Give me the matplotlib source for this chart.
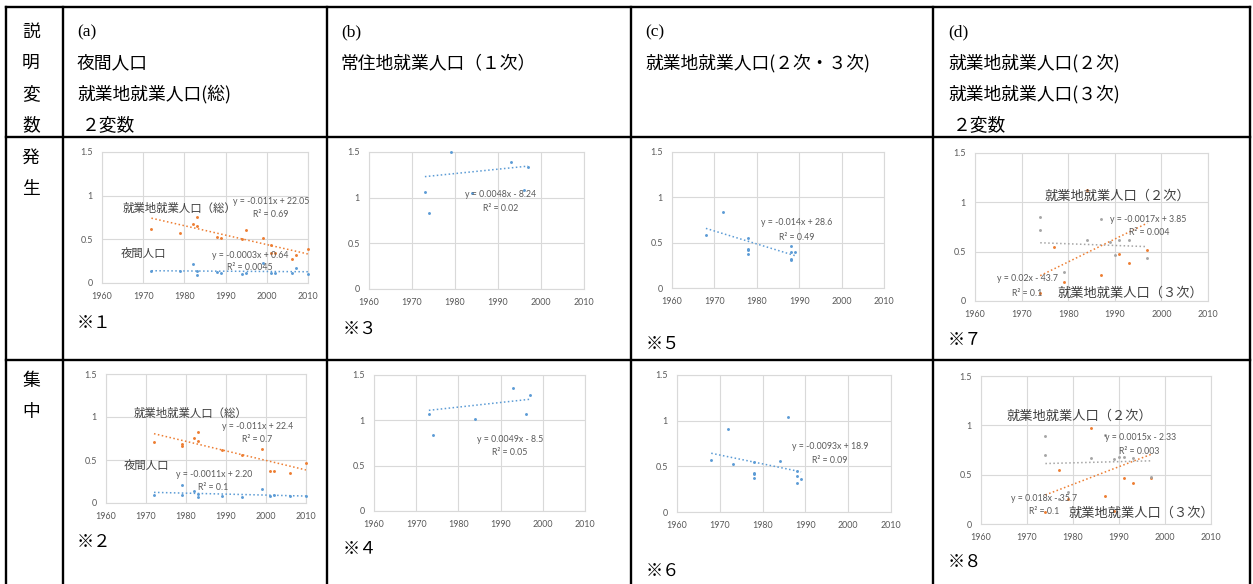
import matplotlib
matplotlib.use('Agg')
import matplotlib.pyplot as plt
from matplotlib.lines import Line2D
import numpy as np

W, H = 1253, 584
BLUE, ORANGE, GRAY = '#5b9bd5', '#ed7d31', '#a5a5a5'
JP = ['Noto Sans CJK JP', 'DejaVu Sans']
NUM = ['Lato', 'DejaVu Sans']

# ---------------- data ----------------
x_ticks = [1960, 1970, 1980, 1990, 2000, 2010]
y_ticks = [0, 0.5, 1, 1.5]
y_tick_labels = ['0', '0.5', '1', '1.5']

# (a) 発生
a1_total_x = [1972, 1979, 1982, 1983, 1983, 1988, 1989, 1994, 1995, 1999, 2001, 2001, 2002, 2006, 2007, 2010]
a1_total_y = [0.62, 0.57, 0.68, 0.76, 0.65, 0.53, 0.52, 0.50, 0.61, 0.52, 0.44, 0.34, 0.34, 0.28, 0.32, 0.39]
a1_night_x = [1972, 1979, 1982, 1983, 1983, 1988, 1989, 1994, 1995, 1999, 2001, 2002, 2006, 2007, 2010]
a1_night_y = [0.14, 0.14, 0.22, 0.14, 0.09, 0.13, 0.11, 0.10, 0.12, 0.23, 0.12, 0.12, 0.11, 0.17, 0.10]
a1_total_trend = (-0.0108, 22.04)
a1_night_trend = (-0.0003, 0.732)

# (b) 発生
b1_x = [1973, 1974, 1979, 1984, 1993, 1996, 1997]
b1_y = [1.06, 0.83, 1.50, 1.05, 1.39, 1.08, 1.34]
b1_trend = (0.0048, -8.24)

# (c) 発生
c1_x = [1968, 1972, 1978, 1978, 1978, 1978, 1988, 1988, 1988, 1988, 1989]
c1_y = [0.59, 0.84, 0.55, 0.43, 0.42, 0.38, 0.46, 0.40, 0.32, 0.31, 0.40]
c1_trend = (-0.0143, 28.80)

# (d) 発生
d1_sec_x = [1974, 1974, 1979, 1984, 1987, 1989, 1990, 1991, 1993, 1997]
d1_sec_y = [0.85, 0.715, 0.29, 0.62, 0.83, 0.60, 0.465, 0.62, 0.62, 0.44]
d1_ter_x = [1974, 1977, 1979, 1984, 1987, 1991, 1993, 1997]
d1_ter_y = [0.08, 0.55, 0.195, 1.12, 0.26, 0.48, 0.385, 0.515]
d1_sec_trend = (-0.0017, 3.946)
d1_ter_trend = (0.0232, -45.54)

# (a) 集中
a2_total_x = [1972, 1979, 1979, 1982, 1983, 1983, 1989, 1994, 1999, 2001, 2002, 2006, 2010]
a2_total_y = [0.705, 0.686, 0.663, 0.756, 0.826, 0.725, 0.62, 0.562, 0.624, 0.376, 0.376, 0.345, 0.469]
a2_night_x = [1972, 1979, 1979, 1982, 1983, 1983, 1989, 1994, 1999, 2001, 2002, 2006, 2010]
a2_night_y = [0.097, 0.205, 0.089, 0.136, 0.109, 0.066, 0.078, 0.066, 0.159, 0.081, 0.093, 0.078, 0.078]
a2_total_trend = (-0.0111, 22.695)
a2_night_trend = (-0.00113, 2.352)

# (b) 集中
b2_x = [1973, 1974, 1984, 1993, 1996, 1997]
b2_y = [1.074, 0.835, 1.011, 1.353, 1.074, 1.283]
b2_trend = (0.0051, -8.952)

# (c) 集中
c2_x = [1968, 1972, 1973, 1978, 1978, 1978, 1978, 1984, 1986, 1988, 1988, 1988, 1989]
c2_y = [0.574, 0.908, 0.527, 0.545, 0.429, 0.414, 0.374, 0.556, 1.039, 0.454, 0.396, 0.316, 0.363]
c2_trend = (-0.0097, 19.733)

# (d) 集中
d2_ter_x = [1974, 1977, 1979, 1984, 1987, 1989, 1991, 1993, 1997]
d2_ter_y = [0.118, 0.546, 0.25, 0.977, 0.286, 0.135, 0.462, 0.411, 0.47]
d2_sec_x = [1974, 1974, 1977, 1979, 1984, 1987, 1989, 1990, 1991, 1993, 1997]
d2_sec_y = [0.89, 0.698, 0.25, 0.327, 0.664, 0.90, 0.654, 0.674, 0.68, 0.664, 0.475]
d2_sec_trend = (0.0012, -1.756)
d2_ter_trend = (0.0179, -35.04)

# ---------------- figure ----------------
fig = plt.figure(figsize=(W / 100, H / 100), dpi=100)
fig.patch.set_facecolor('white')


def fx(x):
    return x / W


def fy(y):
    return 1 - y / H


def hline(y, x0=6, x1=1250, lw=1.7):
    fig.add_artist(Line2D([fx(x0), fx(x1)], [fy(y), fy(y)], color='black', lw=lw,
                          transform=fig.transFigure))


def vline(x, y0=7, y1=584, lw=1.7):
    fig.add_artist(Line2D([fx(x), fx(x)], [fy(y0), fy(y1)], color='black', lw=lw,
                          transform=fig.transFigure))


for y in (7, 137, 360):
    hline(y)
for x in (6, 63, 327, 631, 933, 1250):
    vline(x)


def ftext(x, y, s, size=12.8, family=JP, **kw):
    fig.text(fx(x), fy(y), s, fontsize=size, family=family, va='center', ha='left',
             color='black', **kw)


# left column
for s, y in zip('説明変数', (32, 63, 94, 125)):
    ftext(22, y, s)
for s, y in zip('発生', (158, 189)):
    ftext(22, y, s)
for s, y in zip('集中', (381, 412)):
    ftext(22, y, s)

# header
ftext(77, 32, '(a)', size=12.5, family=['Liberation Serif'])
ftext(77, 63, '夜間人口')
ftext(77, 94, '就業地就業人口(総)')
ftext(82, 125, '２変数')
ftext(341, 32, '(b)', size=12.5, family=['Liberation Serif'])
ftext(341, 63, '常住地就業人口（１次）')
ftext(645, 32, '(c)', size=12.5, family=['Liberation Serif'])
ftext(645, 63, '就業地就業人口(２次・３次)')
ftext(948, 32, '(d)', size=12.5, family=['Liberation Serif'])
ftext(948, 63, '就業地就業人口(２次)')
ftext(948, 94, '就業地就業人口(３次)')
ftext(953, 125, '２変数')

# notes
for s, x, y in [('※１', 77, 323), ('※３', 343, 329), ('※５', 646, 344), ('※７', 948, 340),
                 ('※２', 77, 542), ('※４', 343, 549), ('※６', 646, 571), ('※８', 948, 562)]:
    ftext(x, y, s, size=12.5)


def make_ax(x1960, x2010, y15, y0):
    ax = fig.add_axes([fx(x1960), fy(y0), (x2010 - x1960) / W, (y0 - y15) / H])
    ax.set_xlim(1960, 2010)
    ax.set_ylim(0, 1.5)
    ax.set_xticks(x_ticks)
    ax.set_yticks(y_ticks)
    ax.set_yticklabels(y_tick_labels)
    ax.grid(True, color='#d9d9d9', lw=0.8)
    ax.set_axisbelow(True)
    ax.tick_params(length=0, labelsize=6.4, labelcolor='#595959', pad=6.5)
    for lab in ax.get_xticklabels() + ax.get_yticklabels():
        lab.set_family(NUM)
    for sp in ax.spines.values():
        sp.set_color('#d9d9d9')
        sp.set_linewidth(0.8)
    ax.patch.set_alpha(0)
    return ax


def series(ax, xs, ys, color, trend):
    xs = np.asarray(xs, float)
    ax.plot(xs, ys, 'o', ms=2.1, mew=0, color=color, clip_on=False, zorder=3)
    xr = np.array([xs.min(), xs.max()])
    ax.plot(xr, trend[0] * xr + trend[1], color=color, lw=1.1,
            ls=(0, (1, 1.6)), zorder=2)


def eq(ax, x, y, s):
    ax.text(x, y, s, fontsize=6.3, family=NUM, color='#595959', ha='center',
            va='center', zorder=4)


def jlabel(ax, x, y, s, size=8.2):
    ax.text(x, y, s, fontsize=size, family=JP, color='#404040', ha='left',
            va='center', zorder=4)


# (a) 発生
ax = make_ax(102, 308, 152, 283)
series(ax, a1_total_x, a1_total_y, ORANGE, a1_total_trend)
series(ax, a1_night_x, a1_night_y, BLUE, a1_night_trend)
jlabel(ax, 1964.9, 0.85, '就業地就業人口（総）')
eq(ax, 2001.0, 0.93, 'y = -0.011x + 22.05')
eq(ax, 2001.0, 0.78, 'R² = 0.69')
jlabel(ax, 1964.6, 0.34, '夜間人口')
eq(ax, 1995.9, 0.32, 'y = -0.0003x + 0.64')
eq(ax, 1995.9, 0.18, 'R² = 0.0045')

# (b) 発生
ax = make_ax(369, 584, 152, 289)
series(ax, b1_x, b1_y, BLUE, b1_trend)
eq(ax, 1990.7, 1.03, 'y = 0.0048x - 8.24')
eq(ax, 1990.7, 0.876, 'R² = 0.02')

# (c) 発生
ax = make_ax(672, 884, 152, 288)
series(ax, c1_x, c1_y, BLUE, c1_trend)
eq(ax, 1989.5, 0.717, 'y = -0.014x + 28.6')
eq(ax, 1989.5, 0.562, 'R² = 0.49')

# (d) 発生
ax = make_ax(975, 1208, 153, 301)
series(ax, d1_sec_x, d1_sec_y, GRAY, d1_sec_trend)
series(ax, d1_ter_x, d1_ter_y, ORANGE, d1_ter_trend)
jlabel(ax, 1975.0, 1.064, '就業地就業人口（２次）', size=9.5)
eq(ax, 1997.2, 0.83, 'y = -0.0017x + 3.85')
eq(ax, 1997.3, 0.69, 'R² = 0.004')
eq(ax, 1971.2, 0.233, 'y = 0.02x - 43.7')
eq(ax, 1971.2, 0.081, 'R² = 0.1')
jlabel(ax, 1977.8, 0.081, '就業地就業人口（３次）', size=9.5)

# (a) 集中
ax = make_ax(106, 306, 374, 503)
series(ax, a2_total_x, a2_total_y, ORANGE, a2_total_trend)
series(ax, a2_night_x, a2_night_y, BLUE, a2_night_trend)
jlabel(ax, 1967.0, 1.047, '就業地就業人口（総）')
eq(ax, 1998.0, 0.884, 'y = -0.011x + 22.4')
eq(ax, 1997.75, 0.733, 'R² = 0.7')
jlabel(ax, 1964.5, 0.442, '夜間人口')
eq(ax, 1987.0, 0.337, 'y = -0.0011x + 2.20')
eq(ax, 1986.75, 0.186, 'R² = 0.1')

# (b) 集中
ax = make_ax(374, 585, 375, 511)
series(ax, b2_x, b2_y, BLUE, b2_trend)
eq(ax, 1992.2, 0.794, 'y = 0.0049x - 8.5')
eq(ax, 1992.2, 0.65, 'R² = 0.05')

# (c) 集中
ax = make_ax(677, 891, 375, 512)
series(ax, c2_x, c2_y, BLUE, c2_trend)
eq(ax, 1995.7, 0.712, 'y = -0.0093x + 18.9')
eq(ax, 1995.7, 0.559, 'R² = 0.09')

# (d) 集中
ax = make_ax(981, 1211, 376, 524)
series(ax, d2_ter_x, d2_ter_y, ORANGE, d2_ter_trend)
series(ax, d2_sec_x, d2_sec_y, GRAY, d2_sec_trend)
jlabel(ax, 1965.65, 1.094, '就業地就業人口（２次）', size=9.5)
eq(ax, 1994.6, 0.881, 'y = 0.0015x - 2.33')
eq(ax, 1994.3, 0.73, 'R² = 0.003')
eq(ax, 1973.7, 0.263, 'y = 0.018x - 35.7')
eq(ax, 1973.7, 0.122, 'R² = 0.1')
jlabel(ax, 1979.1, 0.111, '就業地就業人口（３次）', size=9.5)

fig.savefig('out.png', dpi=100, facecolor='white')
